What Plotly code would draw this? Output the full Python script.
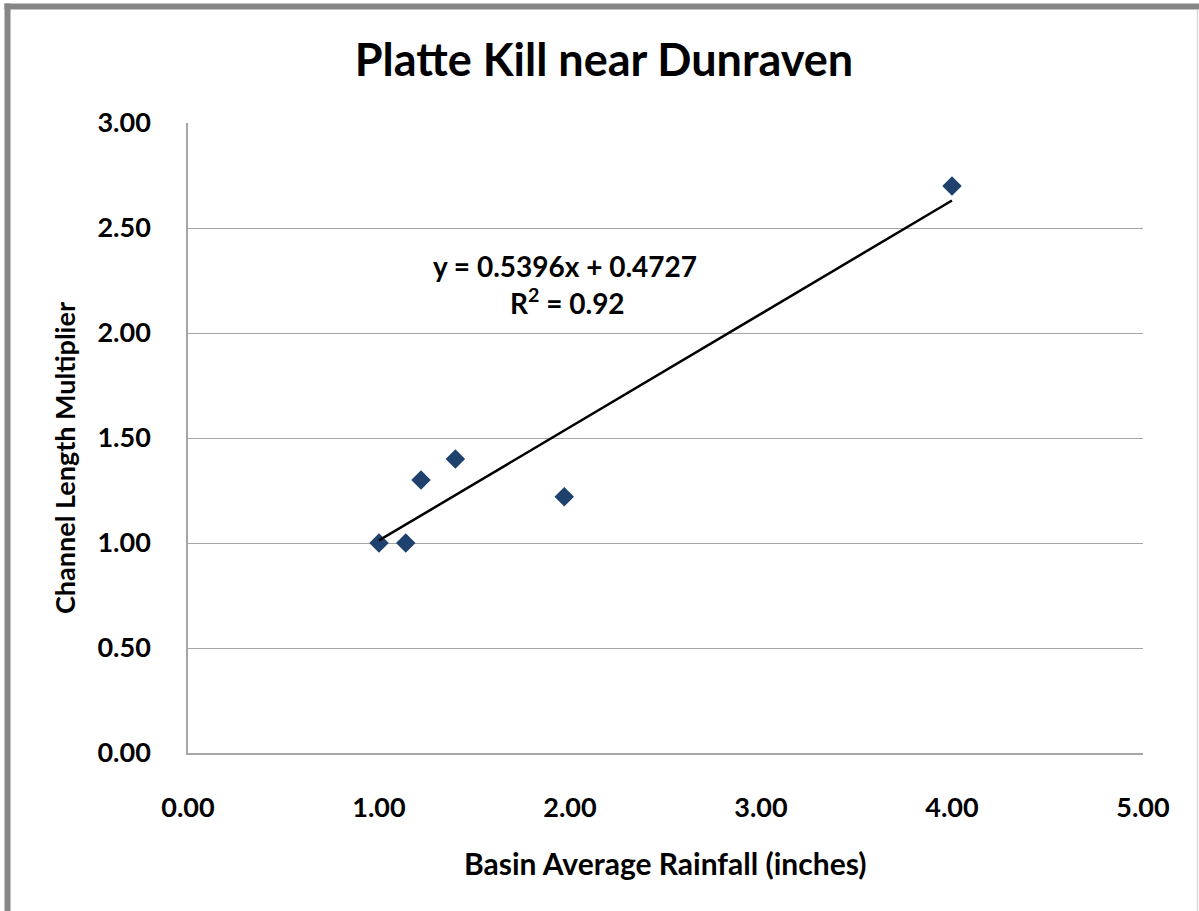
import plotly.graph_objects as go

# ---- data ----
rainfall_in = [1.00, 1.14, 1.22, 1.40, 1.97, 4.00]
length_mult = [1.00, 1.00, 1.30, 1.40, 1.22, 2.70]
trend_slope = 0.5396
trend_intercept = 0.4727
trend_x = [min(rainfall_in), max(rainfall_in)]
x_ticks = [0, 1, 2, 3, 4, 5]
x_tick_labels = ["0.00", "1.00", "2.00", "3.00", "4.00", "5.00"]
y_ticks = [0, 0.5, 1.0, 1.5, 2.0, 2.5, 3.0]
y_tick_labels = ["0.00", "0.50", "1.00", "1.50", "2.00", "2.50", "3.00"]

title_text = "Platte Kill near Dunraven"
x_title = "Basin Average Rainfall (inches)"
y_title = "Channel Length Multiplier"
eq_text = "y = 0.5396x + 0.4727"
r2_text = "R<sup>2</sup> = 0.92"

# ---- layout geometry (pixels in the screenshot; body margin removed) ----
W, H = 1199, 911
L, R, T, B = 188, 1143, 123, 753
FONT = "Lato"


def px(xp):
    return (xp - L) / (R - L)


def py(yp):
    return (B - yp) / (B - T)


def bold(s):
    return "<b>%s</b>" % s


fig = go.Figure()

fig.add_trace(go.Scatter(
    x=rainfall_in, y=length_mult, mode="markers",
    marker=dict(symbol="diamond", size=15, color="#1F416E",
                line=dict(width=0)),
    showlegend=False, hoverinfo="x+y",
))

fig.add_trace(go.Scatter(
    x=trend_x, y=[trend_slope * v + trend_intercept for v in trend_x],
    mode="lines", line=dict(color="black", width=2.5),
    showlegend=False, hoverinfo="skip",
))

annotations = [
    dict(text=bold(eq_text), x=px(565), y=py(266), xref="paper", yref="paper",
         xanchor="center", yanchor="middle",
         showarrow=False, font=dict(family=FONT, size=28, color="black")),
    dict(text=bold(r2_text), x=px(567), y=py(301), xref="paper", yref="paper",
         xanchor="center", yanchor="middle",
         showarrow=False, font=dict(family=FONT, size=28, color="black")),
    dict(text=bold(x_title), x=px(665), y=py(863), xref="paper", yref="paper",
         xanchor="center", yanchor="middle",
         showarrow=False, font=dict(family=FONT, size=30, color="black")),
    dict(text=bold(y_title), x=px(64), y=py(458), xref="paper", yref="paper",
         xanchor="center", yanchor="middle",
         showarrow=False, textangle=-90, font=dict(family=FONT, size=27, color="black")),
]

shapes = [
    # outer frame: thick grey left and top, thin light grey right
    dict(type="line", xref="paper", yref="paper", x0=px(7.5), x1=px(7.5), y0=py(3.5), y1=py(930),
         line=dict(color="#868686", width=6)),
    dict(type="line", xref="paper", yref="paper", x0=px(4.5), x1=px(1215), y0=py(6.5), y1=py(6.5),
         line=dict(color="#868686", width=6)),
    dict(type="line", xref="paper", yref="paper", x0=px(1197.5), x1=px(1197.5), y0=py(9.5), y1=py(930),
         line=dict(color="#D9D9D9", width=1.5)),
]

fig.update_layout(
    width=W, height=H,
    margin=dict(l=L, r=W - R, t=T, b=H - B, autoexpand=False),
    paper_bgcolor="white", plot_bgcolor="white",
    title=dict(text=bold(title_text), x=604 / W, xanchor="center",
               y=1 - 60 / H, yanchor="middle", yref="container",
               font=dict(family=FONT, size=45, color="black")),
    annotations=annotations, shapes=shapes,
    showlegend=False,
)

fig.update_xaxes(
    range=[0, 5], tickvals=x_ticks, ticktext=[bold(t) for t in x_tick_labels],
    showgrid=False, zeroline=False, showline=True, linecolor="#A6A6A6", linewidth=1.5,
    ticks="", ticklabelstandoff=30,
    tickfont=dict(family=FONT, size=27, color="black", weight="bold"),
)
fig.update_yaxes(
    range=[0, 3], tickvals=y_ticks, ticktext=[bold(t) for t in y_tick_labels],
    showgrid=True, gridcolor="#A6A6A6", gridwidth=1.2, zeroline=False,
    showline=True, linecolor="#A6A6A6", linewidth=1.5,
    ticks="", ticklabelstandoff=30,
    tickfont=dict(family=FONT, size=27, color="black", weight="bold"),
)

fig.write_html("out.html", config={"displayModeBar": False},
               post_script="document.body.style.margin='0';document.body.style.overflow='hidden';")
